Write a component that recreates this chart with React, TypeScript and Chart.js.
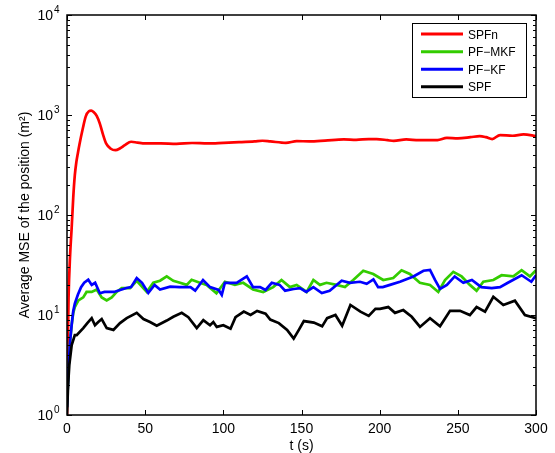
import React, { useEffect, useRef } from 'react';
import { Chart, registerables } from 'chart.js';

Chart.register(...registerables);

// ---- data ----
const spfnT = [0, 0.5, 1, 2, 3, 4, 5, 6, 7, 8, 10, 12, 14, 15.5, 17, 19, 21, 23, 25, 28, 31, 34, 37, 41, 45, 50, 60, 70, 80, 90, 100, 110, 120, 125, 130, 140, 147, 155, 165, 177, 185, 193, 198, 205, 209, 217, 225, 237, 243, 250, 258, 264, 268, 272, 277, 285, 292, 300];
const spfnV = [1, 5, 15, 40, 75, 150, 250, 340, 420, 510, 720, 970, 1090, 1105, 1070, 980, 820, 640, 520, 460, 445, 465, 500, 540, 530, 520, 520, 515, 525, 520, 527, 535, 545, 553, 545, 527, 548, 545, 555, 571, 565, 575, 575, 560, 550, 570, 560, 562, 590, 585, 600, 615, 600, 575, 630, 620, 640, 615];

const pfmkfT = [0, 1, 2, 3, 4, 5, 7.3, 10.4, 12.5, 15.8, 19, 22.2, 25.4, 28.6, 31.8, 35, 40.3, 44.6, 51, 55.2, 59.5, 63.8, 68, 72.3, 76.6, 79.7, 85, 89.3, 95.6, 101, 107.4, 112.7, 119, 125.5, 131.9, 137.2, 142.6, 146.9, 153.3, 157.6, 161.8, 166, 172.4, 177.8, 183.1, 189.5, 195.9, 202.3, 208.7, 214, 219.3, 225.7, 232.2, 237.5, 241.8, 247.1, 252.4, 257.7, 262, 266.3, 272.7, 278, 285.5, 290.8, 296.1, 300];
const pfmkfV = [1.2, 3, 5.5, 8, 10.5, 12, 14, 15, 17, 17, 18, 15, 14, 15, 17, 18.6, 18.6, 22, 17, 21, 22, 24.3, 22, 21, 20, 22.5, 21, 20, 16.5, 21.5, 20, 21, 18, 17, 19, 22.4, 19, 20, 17, 22.4, 20, 21, 20, 19, 22.4, 27.7, 25.7, 22.4, 23.4, 28, 25.7, 21, 20, 17, 22.4, 27, 24.3, 20, 17.5, 21.5, 22.4, 25, 24.3, 28, 24.3, 28];

const pfkfT = [0, 1, 2, 3, 4, 5, 7, 9, 11, 13.6, 15.8, 18, 21, 24, 27, 30, 34, 38, 41, 44.6, 48, 52, 56, 59.5, 66, 72, 79, 82, 87, 91.5, 97, 99, 101, 108.5, 115, 119, 123.5, 127, 131, 136, 139.5, 145, 149, 153, 157.6, 163, 168, 175.7, 181, 187.4, 191.7, 196, 199, 202, 206.6, 213, 221.6, 228, 232.2, 235.4, 238.6, 243, 248, 253.5, 259, 265, 271.7, 277, 282, 290.8, 297, 300];
const pfkfV = [1.2, 3, 5.5, 8, 11, 13, 16, 19, 21, 22.5, 20, 21, 16.5, 17, 17, 17, 17.8, 18.6, 19, 23.4, 21, 16.6, 20, 18, 19.2, 19, 19, 17.5, 22.4, 19, 17.8, 15.9, 21, 21, 24.3, 19, 19, 17.8, 21, 20, 17.5, 18.2, 18.6, 17, 19, 16.6, 17.5, 22, 21, 21.5, 20.5, 22.7, 19, 19, 20, 21.5, 24.3, 27.7, 28.2, 22.4, 18.2, 20, 24.3, 21, 22.4, 19, 18.6, 19, 21, 25, 21.5, 25];

const spfT = [0, 0.7, 1.5, 3, 5, 6.2, 10.4, 13, 15.8, 17.9, 20, 22.2, 25.4, 29.7, 33.9, 38.2, 44.6, 48.9, 53.1, 57.4, 63.8, 68, 73.4, 77.6, 83, 87.2, 91.5, 93.6, 95.8, 100, 104.6, 107.8, 113.1, 117.4, 121.6, 127, 130, 135.5, 140.8, 145, 148.3, 151.5, 157.9, 163.2, 166.4, 171.7, 176, 181.3, 187.7, 193, 197.3, 200.2, 205.5, 209.8, 215.1, 220.5, 225.8, 232.2, 238.6, 245, 251.4, 257.7, 262, 267.4, 272.7, 279.1, 286.5, 292.9, 300];
const spfV = [1, 2, 3.2, 5, 6.3, 6.3, 7.4, 8.3, 9.3, 7.9, 8.5, 9.1, 7.4, 7.1, 8.3, 9.3, 10.5, 9.1, 8.5, 7.8, 8.8, 9.6, 10.5, 9.5, 7.4, 8.9, 7.9, 8.5, 7.6, 7.9, 7.3, 9.5, 10.8, 10, 11, 10.3, 9, 8.3, 7.1, 5.8, 7.1, 8.7, 8.4, 7.7, 9.3, 10, 7.8, 12.6, 10.8, 9.8, 11.5, 11.5, 12, 10.5, 11.2, 9.6, 7.6, 9.3, 7.7, 11, 11, 10, 12, 10.8, 15.2, 12.6, 13.9, 10, 9.3];

const xTicks = [0, 50, 100, 150, 200, 250, 300];
const yExponents = [0, 1, 2, 3, 4];
const legendLabels = ['SPFn', 'PF\u2212MKF', 'PF\u2212KF', 'SPF'];
const legendColors = ['#ff0000', '#33cc00', '#0000ff', '#000000'];
const xTitle = 't (s)';
const yTitle = 'Average MSE of the position (m\u00b2)';

const FONT = '"Liberation Sans", Arial, Helvetica, sans-serif';

const matlabPlugin = {
  id: 'matlabAxes',
  beforeDraw(chart: any) {
    const { ctx, width, height } = chart;
    ctx.save();
    ctx.fillStyle = '#ffffff';
    ctx.fillRect(0, 0, width, height);
    ctx.restore();
  },
  afterDatasetsDraw(chart: any) {
    const { ctx, chartArea: a, scales } = chart;
    const xs = scales.x;
    const ys = scales.y;
    ctx.save();
    ctx.strokeStyle = '#000';
    ctx.fillStyle = '#000';
    ctx.lineWidth = 1;

    ctx.beginPath();
    xTicks.forEach((t) => {
      const px = Math.round(xs.getPixelForValue(t)) + 0.5;
      ctx.moveTo(px, a.bottom);
      ctx.lineTo(px, a.bottom - 5);
      ctx.moveTo(px, a.top);
      ctx.lineTo(px, a.top + 5);
    });
    yExponents.forEach((e) => {
      for (let m = 1; m <= 9; m++) {
        if (e === 4 && m > 1) break;
        const v = m * Math.pow(10, e);
        const py = Math.round(ys.getPixelForValue(v)) + 0.5;
        const len = m === 1 ? 5 : 3;
        ctx.moveTo(a.left, py);
        ctx.lineTo(a.left + len, py);
        ctx.moveTo(a.right, py);
        ctx.lineTo(a.right - len, py);
      }
    });
    ctx.stroke();

    ctx.lineWidth = 1.5;
    ctx.strokeRect(a.left, a.top, a.right - a.left, a.bottom - a.top);

    ctx.font = '14px ' + FONT;
    ctx.textAlign = 'center';
    ctx.textBaseline = 'alphabetic';
    xTicks.forEach((t) => {
      ctx.fillText(String(t), xs.getPixelForValue(t), a.bottom + 18);
    });

    yExponents.forEach((e) => {
      const py = ys.getPixelForValue(Math.pow(10, e));
      ctx.font = '14px ' + FONT;
      ctx.textAlign = 'right';
      ctx.fillText('10', a.left - 14, py + 5);
      ctx.font = '10px ' + FONT;
      ctx.textAlign = 'left';
      ctx.fillText(String(e), a.left - 13, py - 2.5);
    });

    ctx.font = '14px ' + FONT;
    ctx.textAlign = 'center';
    ctx.fillText(xTitle, (a.left + a.right) / 2, a.bottom + 35);
    ctx.save();
    ctx.translate(28.5, (a.top + a.bottom) / 2);
    ctx.rotate(-Math.PI / 2);
    ctx.fillText(yTitle, 0, 0);
    ctx.restore();

    ctx.restore();
  },
  afterDraw(chart: any) {
    const { ctx } = chart;
    ctx.save();
    const bx = 412.5, by = 23.5, bw = 114, bh = 74;
    ctx.fillStyle = '#fff';
    ctx.fillRect(bx, by, bw, bh);
    ctx.strokeStyle = '#000';
    ctx.lineWidth = 1;
    ctx.strokeRect(bx, by, bw, bh);
    const rows = [34, 51.7, 69.2, 86.7];
    ctx.font = '12px ' + FONT;
    ctx.textAlign = 'left';
    ctx.textBaseline = 'alphabetic';
    legendLabels.forEach((lab, i) => {
      ctx.strokeStyle = legendColors[i];
      ctx.lineWidth = 3;
      ctx.beginPath();
      ctx.moveTo(421, rows[i]);
      ctx.lineTo(463, rows[i]);
      ctx.stroke();
      ctx.fillStyle = '#000';
      ctx.fillText(lab, 468, rows[i] + 4.5);
    });
    ctx.restore();
  },
};

function pts(t: number[], v: number[]) {
  return t.map((x, i) => ({ x, y: v[i] }));
}

export default function App() {
  const ref = useRef<HTMLCanvasElement>(null);
  useEffect(() => {
    if (!ref.current) return;
    const common = { pointRadius: 0, borderWidth: 2.7, tension: 0, clip: 0, fill: false };
    const chart = new Chart(ref.current, {
      type: 'line',
      data: {
        datasets: [
          { ...common, label: legendLabels[3], data: pts(spfT, spfV), borderColor: legendColors[3] },
          { ...common, label: legendLabels[2], data: pts(pfkfT, pfkfV), borderColor: legendColors[2] },
          { ...common, label: legendLabels[1], data: pts(pfmkfT, pfmkfV), borderColor: legendColors[1] },
          { ...common, label: legendLabels[0], data: pts(spfnT, spfnV), borderColor: legendColors[0], cubicInterpolationMode: 'monotone' },
        ],
      } as any,
      options: {
        animation: false,
        responsive: false,
        maintainAspectRatio: false,
        layout: { padding: { left: 67, top: 15, right: 19, bottom: 38 } },
        plugins: { legend: { display: false }, tooltip: { enabled: false } },
        scales: {
          x: { type: 'linear', min: 0, max: 300, display: false },
          y: { type: 'logarithmic', min: 1, max: 10000, display: false },
        },
      } as any,
      plugins: [matlabPlugin],
    });
    return () => chart.destroy();
  }, []);
  return (
    <div style={{ position: 'absolute', left: 0, top: 0, width: 555, height: 453, background: '#fff' }}>
      <canvas ref={ref} width={555} height={453} style={{ display: 'block', width: 555, height: 453 }} />
    </div>
  );
}
